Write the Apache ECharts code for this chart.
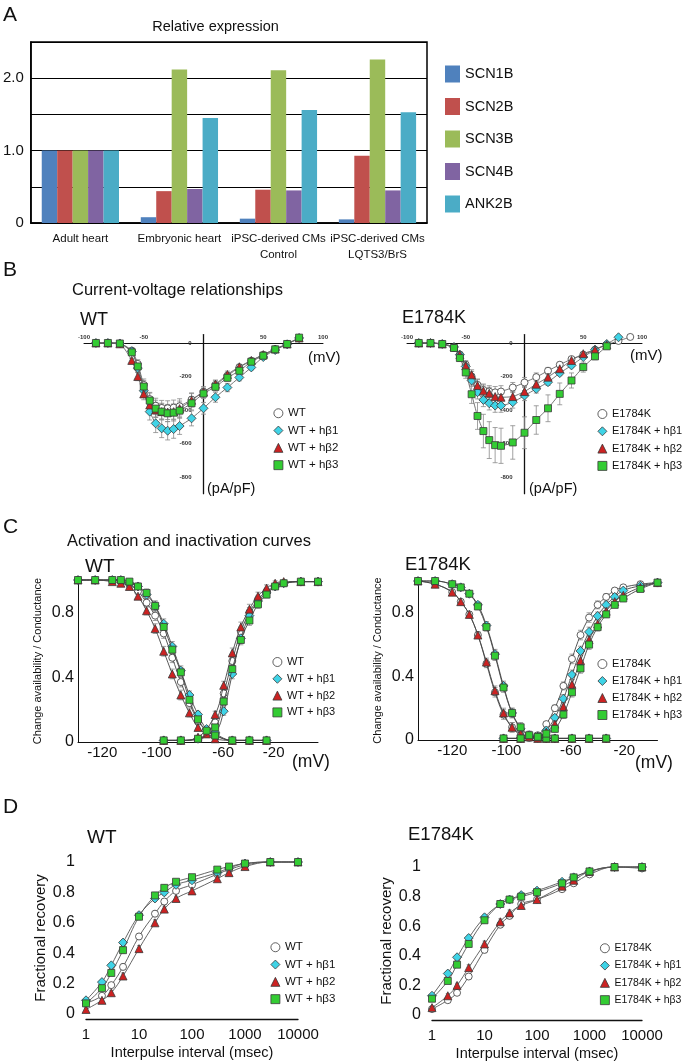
<!DOCTYPE html>
<html><head><meta charset="utf-8">
<script src="https://cdn.jsdelivr.net/npm/echarts@6/dist/echarts.min.js"></script>
<style>html,body{margin:0;padding:0;background:#fff}#c{width:685px;height:1062px}</style>
</head><body><div id="c"></div>
<script>
// ================= DATA =================
// ---- Panel A : relative expression
const aCategories = ['Adult heart', 'Embryonic heart', 'iPSC-derived CMs\nControl', 'iPSC-derived CMs\nLQTS3/BrS'];
const aGenes = ['SCN1B', 'SCN2B', 'SCN3B', 'SCN4B', 'ANK2B'];
const aSCN1B = [1.00, 0.08, 0.06, 0.05];
const aSCN2B = [1.00, 0.44, 0.46, 0.93];
const aSCN3B = [1.00, 2.12, 2.11, 2.26];
const aSCN4B = [1.00, 0.47, 0.45, 0.45];
const aANK2B = [1.00, 1.45, 1.56, 1.53];
const aYTickLabels = {0: '0', 1: '1.0', 2: '2.0'};

// ---- Panel B : current-voltage relationships (pA/pF vs mV)
const wtNames = ['WT', 'WT + hβ1', 'WT + hβ2', 'WT + hβ3'];
const ekNames = ['E1784K', 'E1784K + hβ1', 'E1784K + hβ2', 'E1784K + hβ3'];
const ivVoltWT = [-90, -80, -70, -60, -55, -50, -45, -40, -35, -30, -25, -20, -10, 0, 10, 20, 30, 40, 50, 60, 70, 80];
const ivWT   = [0, 0, -3, -45, -125, -250, -335, -375, -388, -390, -386, -378, -338, -292, -250, -196, -145, -106, -70, -36, -6, 28];
const ivWTb1 = [0, 0, -3, -50, -150, -285, -410, -480, -510, -524, -514, -496, -450, -390, -324, -266, -206, -146, -84, -42, -8, 30];
const ivWTb2 = [0, 0, -5, -104, -200, -304, -370, -400, -410, -412, -410, -392, -342, -292, -246, -188, -142, -104, -70, -36, -6, 30];
const ivWTb3 = [0, 0, -3, -56, -140, -260, -344, -392, -410, -420, -416, -404, -360, -302, -262, -208, -166, -112, -76, -38, -6, 32];
const ivWTErr   = [0, 0, 3, 10, 25, 35, 40, 45, 45, 45, 45, 45, 40, 30, 25, 20, 15, 12, 10, 8, 6, 5];
const ivWTb1Err = [0, 0, 3, 10, 25, 40, 50, 55, 55, 55, 55, 50, 45, 35, 30, 25, 20, 15, 12, 8, 6, 5];
const ivWTb2Err = [0, 0, 3, 12, 25, 35, 40, 45, 45, 45, 45, 45, 40, 30, 25, 20, 15, 12, 10, 8, 6, 5];
const ivWTb3Err = [0, 0, 3, 10, 25, 35, 45, 50, 50, 50, 50, 45, 40, 30, 25, 20, 15, 12, 10, 8, 6, 5];

const ivVoltEK = [-90, -80, -70, -60, -55, -50, -45, -40, -35, -30, -25, -20, -10, 0, 10, 20, 30, 40, 50, 60, 70, 80, 90];
const ivEK   = [0, 0, -6, -30, -70, -130, -200, -250, -280, -290, -295, -290, -266, -236, -204, -166, -130, -96, -70, -40, -10, 12, 36];
const ivEKb1 = [0, 0, -6, -24, -70, -140, -224, -294, -340, -360, -374, -374, -354, -314, -274, -234, -180, -134, -84, -40, -6, 34, null];
const ivEKb2 = [0, 0, -6, -24, -70, -136, -190, -254, -286, -300, -320, -324, -320, -290, -246, -204, -154, -104, -64, -40, -10, null, null];
const ivEKb3 = [0, 0, -6, -30, -90, -176, -306, -436, -526, -580, -610, -614, -594, -536, -460, -390, -304, -224, -144, -80, -20, null, null];
const ivEKErr   = [0, 0, 3, 8, 15, 25, 30, 35, 35, 35, 35, 35, 30, 30, 25, 20, 15, 12, 10, 8, 6, 5, 5];
const ivEKb1Err = [0, 0, 3, 8, 15, 25, 35, 40, 40, 40, 40, 40, 35, 30, 25, 20, 15, 12, 10, 8, 6, 5, null];
const ivEKb2Err = [0, 0, 3, 8, 15, 25, 30, 35, 35, 35, 35, 35, 30, 30, 25, 20, 15, 12, 10, 8, 6, null, null];
const ivEKb3Err = [0, 0, 3, 10, 20, 35, 55, 80, 100, 110, 105, 105, 100, 95, 85, 80, 65, 45, 30, 20, 10, null, null];
const ivXTicks = [-100, -50, 50, 100];
const ivYTicks = [-800, -600, -400, -200, 0];

// ---- Panel C : activation / inactivation
const cInactVolt = [-140, -130, -120, -115, -110, -105, -100, -95, -90, -85, -80, -75, -70, -65, -60, -50, -40, -30];
const cInactWT   = [1, 1, 1, 0.99, 0.97, 0.93, 0.86, 0.78, 0.67, 0.52, 0.37, 0.24, 0.13, 0.07, 0.04, 0.01, 0.01, 0.01];
const cInactWTb1 = [1, 1, 1, 1, 0.98, 0.96, 0.91, 0.84, 0.73, 0.59, 0.44, 0.29, 0.17, 0.08, 0.05, 0.01, 0.01, 0.01];
const cInactWTb2 = [1, 1, 0.99, 0.98, 0.96, 0.90, 0.81, 0.70, 0.56, 0.42, 0.29, 0.18, 0.09, 0.05, 0.02, 0.01, 0.01, 0.01];
const cInactWTb3 = [1, 1, 1, 1, 0.99, 0.96, 0.92, 0.84, 0.71, 0.57, 0.43, 0.26, 0.14, 0.07, 0.04, 0.01, 0.01, 0.01];
const cInactErr  = [0, 0, 0.01, 0.01, 0.015, 0.02, 0.025, 0.03, 0.03, 0.03, 0.03, 0.025, 0.02, 0.015, 0.01, 0, 0, 0];
const cActVoltWT = [-90, -80, -70, -60, -55, -50, -45, -40, -35, -30, -25, -20, -10, 0];
const cActWT   = [0.01, 0.01, 0.02, 0.12, 0.30, 0.50, 0.68, 0.80, 0.88, 0.93, 0.96, 0.98, 0.99, 0.99];
const cActWTb1 = [0.01, 0.01, 0.02, 0.06, 0.19, 0.42, 0.64, 0.78, 0.87, 0.92, 0.96, 0.98, 0.99, 0.99];
const cActWTb2 = [0.01, 0.01, 0.03, 0.17, 0.35, 0.55, 0.71, 0.82, 0.90, 0.95, 0.98, 0.99, 0.99, 0.99];
const cActWTb3 = [0.01, 0.01, 0.02, 0.09, 0.25, 0.45, 0.63, 0.75, 0.85, 0.91, 0.96, 0.98, 0.99, 0.99];
const cActErrWT = [0, 0, 0.005, 0.02, 0.025, 0.03, 0.03, 0.03, 0.025, 0.02, 0.015, 0.01, 0, 0];

const cInactEK   = [1, 0.98, 0.93, 0.87, 0.79, 0.66, 0.48, 0.30, 0.16, 0.08, 0.03, 0.015, 0.01, 0.01, 0.01, 0.01, 0.01, 0.01];
const cInactEKb1 = [1, 1, 0.98, 0.96, 0.92, 0.85, 0.72, 0.54, 0.34, 0.17, 0.07, 0.03, 0.02, 0.01, 0.01, 0.01, 0.01, 0.01];
const cInactEKb2 = [1, 0.98, 0.93, 0.87, 0.79, 0.66, 0.49, 0.31, 0.17, 0.08, 0.04, 0.02, 0.01, 0.01, 0.01, 0.01, 0.01, 0.01];
const cInactEKb3 = [1, 1, 0.98, 0.96, 0.92, 0.84, 0.71, 0.53, 0.33, 0.17, 0.08, 0.03, 0.02, 0.01, 0.01, 0.01, 0.01, 0.01];
const cActVoltEK = [-90, -80, -70, -65, -60, -55, -50, -45, -40, -35, -30, -25, -20, -10, 0];
const cActEK   = [0.01, 0.01, 0.03, 0.10, 0.20, 0.34, 0.51, 0.66, 0.77, 0.85, 0.90, 0.94, 0.96, 0.98, 0.99];
const cActEKb1 = [0.01, 0.01, 0.02, 0.06, 0.14, 0.26, 0.41, 0.56, 0.68, 0.78, 0.85, 0.90, 0.94, 0.97, 0.99];
const cActEKb2 = [0.01, 0.01, 0.02, 0.05, 0.10, 0.21, 0.35, 0.50, 0.63, 0.73, 0.81, 0.87, 0.91, 0.96, 0.99];
const cActEKb3 = [0.01, 0.01, 0.02, 0.04, 0.07, 0.16, 0.30, 0.45, 0.60, 0.71, 0.79, 0.85, 0.89, 0.95, 0.99];
const cActErrEK = [0, 0, 0.005, 0.01, 0.02, 0.025, 0.03, 0.03, 0.03, 0.025, 0.02, 0.015, 0.01, 0, 0];
const cXTicks = [-120, -100, -60, -20];
const cYTicks = [0, 0.4, 0.8];

// ---- Panel D : recovery from inactivation
const dIntervals = [1, 2, 3, 5, 10, 20, 30, 50, 100, 300, 500, 1000, 3000, 10000];
const dWT   = [0.07, 0.12, 0.19, 0.31, 0.51, 0.66, 0.74, 0.81, 0.85, 0.92, 0.95, 0.98, 1.0, 1.0];
const dWTb1 = [0.09, 0.21, 0.32, 0.47, 0.65, 0.76, 0.80, 0.85, 0.88, 0.93, 0.96, 0.99, 1.0, 1.0];
const dWTb2 = [0.03, 0.09, 0.14, 0.25, 0.43, 0.60, 0.69, 0.76, 0.81, 0.89, 0.93, 0.97, 1.0, 1.0];
const dWTb3 = [0.07, 0.17, 0.27, 0.42, 0.64, 0.78, 0.83, 0.87, 0.90, 0.95, 0.97, 0.99, 1.0, 1.0];
const dEK   = [0.04, 0.10, 0.15, 0.26, 0.44, 0.61, 0.67, 0.75, 0.78, 0.85, 0.89, 0.95, 1.0, 0.99];
const dEKb1 = [0.13, 0.28, 0.39, 0.52, 0.66, 0.75, 0.78, 0.81, 0.84, 0.90, 0.93, 0.97, 1.0, 1.0];
const dEKb2 = [0.05, 0.13, 0.20, 0.32, 0.48, 0.63, 0.69, 0.74, 0.78, 0.87, 0.91, 0.97, 1.0, 1.0];
const dEKb3 = [0.11, 0.23, 0.34, 0.48, 0.64, 0.75, 0.78, 0.80, 0.83, 0.89, 0.93, 0.97, 1.0, 1.0];
const dErr  = [0.01, 0.015, 0.015, 0.02, 0.02, 0.02, 0.02, 0.015, 0.015, 0.01, 0.01, 0.01, 0, 0];

// ================= STYLE =================
const FONT = "'Liberation Sans', Arial, Helvetica, sans-serif";
const A_COLORS = ['#4f81bd', '#c0504d', '#9bbb59', '#8064a2', '#4bacc6'];
const SYM = ['circle', 'diamond', 'triangle', 'rect'];
const SYM_SIZE = [7, 9, 8, 7];
const COL = ['#ffffff', '#3fd3e6', '#cc2222', '#33cc33'];
const EDGE = '#3a3a3a';

// IV grid geometry and ranges
const IV_XMIN = -100, IV_XMAX = 100, IV_YMIN = -900, IV_YMAX = 50;
const ivGrids = [
  {left: 84, top: 334.6, width: 239, height: 159.1},
  {left: 407, top: 334.6, width: 235, height: 159.1}
];

function pairs(xs, ys) {
  const out = [];
  xs.forEach((x, i) => { if (ys[i] != null) out.push([x, ys[i]]); });
  return out;
}
function markerSeries(name, k, gi, xs, ys, opt) {
  opt = opt || {};
  return {
    name, type: 'line', xAxisIndex: gi, yAxisIndex: gi,
    data: pairs(xs, ys), symbol: SYM[k], symbolSize: SYM_SIZE[k] * (opt.scale || 1),
    smooth: opt.smooth == null ? 0.3 : opt.smooth, clip: false, z: 3 + k,
    lineStyle: {color: opt.lineColor || '#555', width: opt.lineWidth || 0.9},
    itemStyle: {color: COL[k], borderColor: EDGE, borderWidth: 0.8},
    emphasis: {disabled: true}, animation: false
  };
}
function errSeries(gi, xs, ys, es, capW) {
  const data = [];
  xs.forEach((x, i) => { if (ys[i] != null && es[i] != null && es[i] > 0) data.push([x, ys[i], es[i]]); });
  return {
    type: 'custom', xAxisIndex: gi, yAxisIndex: gi, z: 1, silent: true, animation: false, clip: false,
    encode: {x: 0, y: 1}, data,
    renderItem: (params, api) => {
      const x = api.value(0), y = api.value(1), e = api.value(2);
      const p1 = api.coord([x, y + e]), p2 = api.coord([x, y - e]);
      const st = {stroke: '#8a8a8a', lineWidth: 0.8};
      return {type: 'group', children: [
        {type: 'line', shape: {x1: p1[0], y1: p1[1], x2: p2[0], y2: p2[1]}, style: st},
        {type: 'line', shape: {x1: p1[0] - capW, y1: p1[1], x2: p1[0] + capW, y2: p1[1]}, style: st},
        {type: 'line', shape: {x1: p2[0] - capW, y1: p2[1], x2: p2[0] + capW, y2: p2[1]}, style: st}
      ]};
    }
  };
}
function legendFor(names, left, top, fontSize, gap) {
  return {
    orient: 'vertical', left, top, padding: 0, itemWidth: 9, itemHeight: 9, itemGap: gap,
    selectedMode: false,
    textStyle: {fontSize, lineHeight: fontSize + 1, color: '#111', fontFamily: FONT},
    data: names.map((n, k) => ({name: n, icon: SYM[k], itemStyle: {color: COL[k], borderColor: EDGE, borderWidth: 0.8}}))
  };
}
function txt(text, x, y, size, align) {
  return {type: 'text', x, y, silent: true,
    style: {text, fontSize: size, fontFamily: FONT, fill: '#111',
      align: align || 'left', verticalAlign: 'middle', textAlign: align || 'left', textVerticalAlign: 'middle'}};
}
function shiftedLabels(shifts) {
  const rich = {};
  Object.keys(shifts).forEach(v => {
    const s = shifts[v];
    rich['t' + Math.abs(v)] = {fontSize: 15, fontFamily: FONT, color: '#111',
      padding: s >= 0 ? [0, 0, 0, 2 * s] : [0, -2 * s, 0, 0]};
  });
  return {
    fontSize: 15, fontFamily: FONT, color: '#111', margin: 3, rich,
    formatter: v => cXTicks.includes(v) ? '{t' + Math.abs(v) + '|' + v + '}' : ''
  };
}

// ================= AXES =================
// IV axes cross at the origin: shift them from the grid edge to the zero position of the other axis
const ivX = gi => {
  const g = ivGrids[gi - 1];
  const zeroOffset = g.height * (IV_YMAX - 0) / (IV_YMAX - IV_YMIN);
  return {gridIndex: gi, type: 'value', min: IV_XMIN, max: IV_XMAX, interval: 50, position: 'top', offset: -zeroOffset,
    axisLine: {onZero: false, lineStyle: {color: '#111', width: 1}}, axisTick: {show: false}, splitLine: {show: false},
    axisLabel: {fontSize: 6, fontWeight: 'bold', color: '#333', margin: 3, fontFamily: FONT,
      formatter: v => ivXTicks.includes(v) ? String(v) : ''}};
};
const ivY = gi => {
  const g = ivGrids[gi - 1];
  const zeroOffset = g.width * (0 - IV_XMIN) / (IV_XMAX - IV_XMIN);
  return {gridIndex: gi, type: 'value', min: IV_YMIN, max: IV_YMAX, interval: 100, position: 'left', offset: -zeroOffset,
    axisLine: {onZero: false, lineStyle: {color: '#111', width: 1.3}}, axisTick: {show: false}, splitLine: {show: false},
    axisLabel: {fontSize: 6, fontWeight: 'bold', color: '#333', margin: 12, fontFamily: FONT,
      formatter: v => ivYTicks.includes(v) ? String(v) : ''}};
};
const cX = (gi, shifts) => ({gridIndex: gi, type: 'value', min: -140, max: 0, interval: 20,
  axisLine: {onZero: false, lineStyle: {color: '#111', width: 1}}, axisTick: {show: false}, splitLine: {show: false},
  axisLabel: shiftedLabels(shifts)});
const cY = gi => ({gridIndex: gi, type: 'value', min: 0, max: 1, interval: 0.4,
  axisLine: {show: true, onZero: false, lineStyle: {color: '#111', width: 1}}, axisTick: {show: false}, splitLine: {show: false},
  name: 'Change availability / Conductance', nameLocation: 'middle', nameGap: 35,
  nameTextStyle: {fontSize: 11, fontFamily: FONT, color: '#111'},
  axisLabel: {fontSize: 16, color: '#111', margin: 4, fontFamily: FONT, showMaxLabel: false,
    formatter: v => cYTicks.some(t => Math.abs(t - v) < 1e-6) ? (v === 0 ? '0' : v.toFixed(1)) : ''}});
const dX = gi => ({gridIndex: gi, type: 'log', logBase: 10, min: 1, max: 10000, offset: 5,
  axisLine: {onZero: false, lineStyle: {color: '#111', width: 1.3}}, axisTick: {show: false}, splitLine: {show: false},
  axisLabel: {fontSize: 15, color: '#111', margin: 8, fontFamily: FONT, formatter: v => String(Math.round(v))},
  name: 'Interpulse interval (msec)', nameLocation: 'middle', nameGap: 26,
  nameTextStyle: {fontSize: 14.5, fontFamily: FONT, color: '#111'}});
const dY = gi => ({gridIndex: gi, type: 'value', min: 0, max: 1, interval: 0.2,
  axisLine: {show: false, onZero: false}, axisTick: {show: false}, splitLine: {show: false},
  axisLabel: {fontSize: 16, color: '#111', margin: 11, fontFamily: FONT,
    formatter: v => (Math.abs(v) < 1e-6 ? '0' : Math.abs(v - 1) < 1e-6 ? '1' : v.toFixed(1))},
  name: 'Fractional recovery', nameLocation: 'middle', nameGap: 38,
  nameTextStyle: {fontSize: 15, fontFamily: FONT, color: '#111'}});

// ================= SERIES =================
const series = [];
[aSCN1B, aSCN2B, aSCN3B, aSCN4B, aANK2B].forEach((vals, k) => {
  series.push({name: aGenes[k], type: 'bar', xAxisIndex: 0, yAxisIndex: 0, data: vals,
    barGap: '0%', barCategoryGap: '22%', itemStyle: {color: A_COLORS[k]}, animation: false, emphasis: {disabled: true}});
});
// B
[[ivWT, ivWTErr], [ivWTb1, ivWTb1Err], [ivWTb2, ivWTb2Err], [ivWTb3, ivWTb3Err]].forEach(([v, e]) => series.push(errSeries(1, ivVoltWT, v, e, 2.5)));
[ivWT, ivWTb1, ivWTb2, ivWTb3].forEach((v, k) => series.push(markerSeries(wtNames[k], k, 1, ivVoltWT, v, {smooth: 0.2, lineColor: '#666'})));
[[ivEK, ivEKErr], [ivEKb1, ivEKb1Err], [ivEKb2, ivEKb2Err], [ivEKb3, ivEKb3Err]].forEach(([v, e]) => series.push(errSeries(2, ivVoltEK, v, e, 2.5)));
[ivEK, ivEKb1, ivEKb2, ivEKb3].forEach((v, k) => series.push(markerSeries(ekNames[k], k, 2, ivVoltEK, v, {smooth: 0.2, lineColor: '#666'})));
// C
[cInactWT, cInactWTb1, cInactWTb2, cInactWTb3].forEach(v => series.push(errSeries(3, cInactVolt, v, cInactErr, 2.5)));
[cActWT, cActWTb1, cActWTb2, cActWTb3].forEach(v => series.push(errSeries(3, cActVoltWT, v, cActErrWT, 2.5)));
[cInactEK, cInactEKb1, cInactEKb2, cInactEKb3].forEach(v => series.push(errSeries(4, cInactVolt, v, cInactErr, 2.5)));
[cActEK, cActEKb1, cActEKb2, cActEKb3].forEach(v => series.push(errSeries(4, cActVoltEK, v, cActErrEK, 2.5)));
[cInactWT, cInactWTb1, cInactWTb2, cInactWTb3].forEach((v, k) => series.push(markerSeries(wtNames[k], k, 3, cInactVolt, v, {smooth: 0.4, lineColor: '#444'})));
[cActWT, cActWTb1, cActWTb2, cActWTb3].forEach((v, k) => series.push(markerSeries(wtNames[k], k, 3, cActVoltWT, v, {smooth: 0.4, lineColor: '#444'})));
[cInactEK, cInactEKb1, cInactEKb2, cInactEKb3].forEach((v, k) => series.push(markerSeries(ekNames[k], k, 4, cInactVolt, v, {smooth: 0.4, lineColor: '#444'})));
[cActEK, cActEKb1, cActEKb2, cActEKb3].forEach((v, k) => series.push(markerSeries(ekNames[k], k, 4, cActVoltEK, v, {smooth: 0.4, lineColor: '#444'})));
// D
[dWT, dWTb1, dWTb2, dWTb3].forEach(v => series.push(errSeries(5, dIntervals, v, dErr, 2)));
[dEK, dEKb1, dEKb2, dEKb3].forEach(v => series.push(errSeries(6, dIntervals, v, dErr, 2)));
[dWT, dWTb1, dWTb2, dWTb3].forEach((v, k) => series.push(markerSeries(wtNames[k], k, 5, dIntervals, v, {smooth: 0.4, lineColor: '#555'})));
[dEK, dEKb1, dEKb2, dEKb3].forEach((v, k) => series.push(markerSeries(ekNames[k], k, 6, dIntervals, v, {smooth: 0.4, lineColor: '#555'})));

// ================= OPTION =================
const option = {
  backgroundColor: '#ffffff',
  animation: false,
  textStyle: {fontFamily: FONT},
  grid: [
    {left: 30, top: 42, width: 397, height: 181, show: true, borderColor: '#000', borderWidth: 1.5, backgroundColor: 'transparent'},
    ivGrids[0],
    ivGrids[1],
    {left: 78, top: 580, width: 240, height: 162},
    {left: 418, top: 581, width: 239.5, height: 159},
    {left: 86, top: 862, width: 212, height: 152},
    {left: 432, top: 867, width: 210, height: 151}
  ],
  xAxis: [
    {gridIndex: 0, type: 'category', data: aCategories,
      axisLine: {lineStyle: {color: '#000', width: 1.5}}, axisTick: {show: false},
      axisLabel: {interval: 0, fontSize: 11.5, lineHeight: 16, color: '#111', margin: 8, fontFamily: FONT}},
    ivX(1), ivX(2),
    cX(3, {'-120': -10, '-100': 10, '-60': 8, '-20': -10}),
    cX(4, {'-120': 0, '-100': 20, '-60': 16, '-20': 1}),
    dX(5), dX(6)
  ],
  yAxis: [
    {gridIndex: 0, type: 'value', min: 0, max: 2.5, interval: 0.5,
      axisLine: {show: true, lineStyle: {color: '#000', width: 1.5}}, axisTick: {show: false},
      splitLine: {show: true, lineStyle: {color: '#000', width: 1.2}},
      axisLabel: {fontSize: 15, color: '#111', margin: 7, fontFamily: FONT,
        formatter: v => (aYTickLabels[v] !== undefined ? aYTickLabels[v] : '')}},
    ivY(1), ivY(2), cY(3), cY(4), dY(5), dY(6)
  ],
  legend: [
    {orient: 'vertical', left: 445, top: 65.5, padding: 0, itemWidth: 15, itemHeight: 17, itemGap: 15.5,
      selectedMode: false, icon: 'rect', data: aGenes,
      textStyle: {fontSize: 14.5, lineHeight: 17, color: '#111', fontFamily: FONT}},
    legendFor(wtNames, 273.5, 407, 11.5, 4.8),
    legendFor(ekNames, 597.5, 408, 11, 5.3),
    legendFor(wtNames, 272.5, 656, 11, 4.8),
    legendFor(ekNames, 597.5, 658, 11, 5),
    legendFor(wtNames, 270.5, 941, 11.5, 4.8),
    legendFor(ekNames, 600, 942.5, 10.5, 5.8)
  ],
  graphic: [
    txt('A', 3, 15, 21),
    txt('Relative expression', 215.5, 27, 14.5, 'center'),
    txt('B', 3, 270, 21),
    txt('Current-voltage relationships', 72, 290, 16.5),
    txt('WT', 80, 320, 18),
    txt('E1784K', 402, 318, 18),
    txt('(mV)', 308, 358, 15),
    txt('(pA/pF)', 207, 489, 14.5),
    txt('(mV)', 630, 356, 15),
    txt('(pA/pF)', 529, 489, 14.5),
    txt('C', 3, 527, 21),
    txt('Activation and inactivation curves', 67, 541, 16.5),
    txt('WT', 85, 567, 19),
    txt('E1784K', 405, 565, 18.5),
    txt('(mV)', 292, 762, 17.5),
    txt('(mV)', 635, 763, 17.5),
    txt('D', 3, 807, 21),
    txt('WT', 87, 838, 19),
    txt('E1784K', 408, 835, 18.5)
  ],
  series
};
const chart = echarts.init(document.getElementById('c'), null, {renderer: 'canvas'});
chart.setOption(option);
</script></body></html>
